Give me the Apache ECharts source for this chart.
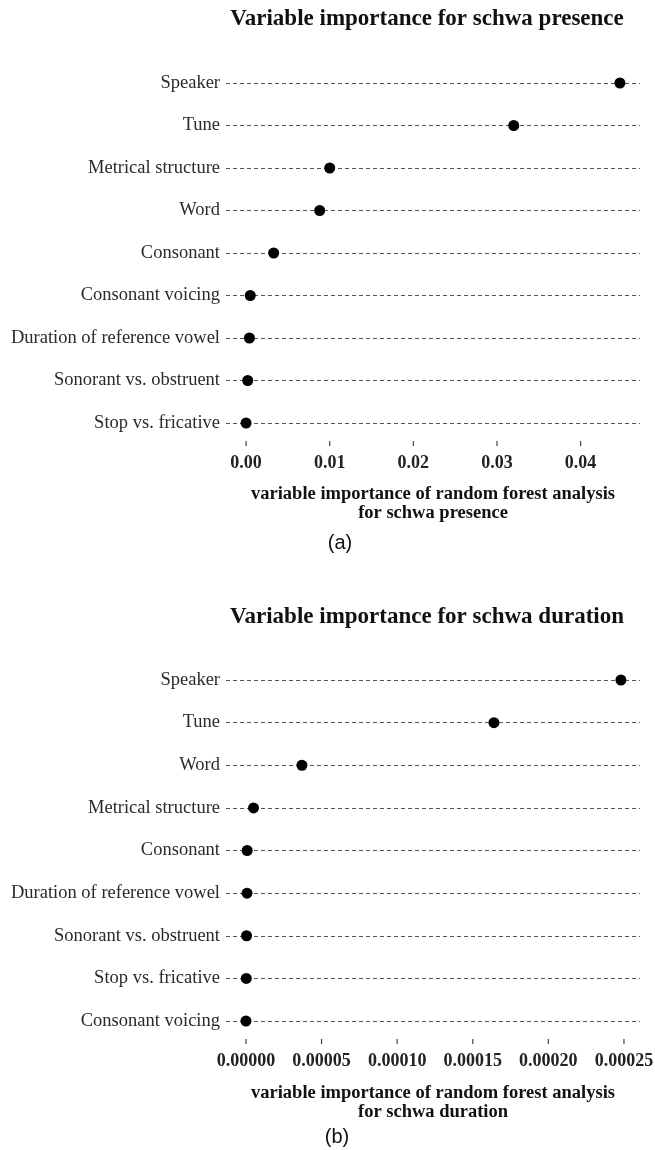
<!DOCTYPE html>
<html>
<head>
<meta charset="utf-8">
<script src="https://cdn.jsdelivr.net/npm/echarts@6/dist/echarts.min.js"></script>
<style>
  html, body { margin: 0; padding: 0; background: #fff; }
  #chart { width: 655px; height: 1150px; }
</style>
</head>
<body>
<div id="chart"></div>
<script>
// Panel (a): variable importance for schwa presence (top to bottom)
const presenceVars = ['Speaker', 'Tune', 'Metrical structure', 'Word', 'Consonant',
  'Consonant voicing', 'Duration of reference vowel', 'Sonorant vs. obstruent', 'Stop vs. fricative'];
const presenceImportance = [0.0447, 0.0320, 0.0100, 0.0088, 0.0033, 0.0005, 0.0004, 0.0002, 0.0000];
const presenceTicks = [0.00, 0.01, 0.02, 0.03, 0.04];

// Panel (b): variable importance for schwa duration (top to bottom)
const durationVars = ['Speaker', 'Tune', 'Word', 'Metrical structure', 'Consonant',
  'Duration of reference vowel', 'Sonorant vs. obstruent', 'Stop vs. fricative', 'Consonant voicing'];
const durationImportance = [0.000248, 0.000164, 0.000037, 0.000005, 0.0000008, 0.0000007, 0.0000004, 0.0000002, 0.0];
const durationTicks = [0.00000, 0.00005, 0.00010, 0.00015, 0.00020, 0.00025];

const serif = '"Liberation Serif", "Times New Roman", serif';
const sans = '"Liberation Sans", Arial, sans-serif';

function valueAxis(gridIndex, min, max, ticks, digits) {
  return {
    type: 'value', gridIndex, min, max, offset: 18,
    axisLine: { show: false },
    splitLine: { show: false },
    axisTick: { show: false },
    axisLabel: {
      customValues: ticks, margin: 13,
      fontFamily: serif, fontWeight: 'bold', fontSize: 18, color: '#222',
      formatter: v => v.toFixed(digits)
    }
  };
}

function categoryAxis(gridIndex, names) {
  return {
    type: 'category', gridIndex, data: names, inverse: true, boundaryGap: false,
    axisLine: { show: false },
    axisTick: { show: false },
    axisLabel: { interval: 0, margin: 6, fontFamily: serif, fontSize: 18.5, color: '#2a2a2a' },
    splitLine: { show: true, interval: 0, lineStyle: { color: '#555', width: 1.2, type: [4, 3] } }
  };
}

function dots(axisIndex, names, values) {
  return {
    type: 'scatter', xAxisIndex: axisIndex, yAxisIndex: axisIndex,
    symbolSize: 11, itemStyle: { color: '#000', opacity: 1 },
    data: values.map((v, i) => [v, names[i]]), z: 5
  };
}

// Short tick marks below the lowest row, one per tick value
function tickMarks(axisIndex, names, ticks) {
  const last = names.length - 1;
  return {
    type: 'custom', xAxisIndex: axisIndex, yAxisIndex: axisIndex, clip: false,
    silent: true,
    data: ticks.map(t => [t, last]),
    encode: { x: 0, y: 1 },
    renderItem: (params, api) => {
      const p = api.coord([api.value(0), api.value(1)]);
      return {
        type: 'line',
        shape: { x1: p[0], y1: p[1] + 18, x2: p[0], y2: p[1] + 23 },
        style: { stroke: '#444', lineWidth: 1.2 }
      };
    }
  };
}

function text(x, y, str, size, weight, family, lh) {
  return {
    type: 'text', x, y,
    style: { text: str, fontSize: size, fontWeight: weight, fontFamily: family,
      fill: '#111', align: 'center', verticalAlign: 'middle', lineHeight: lh || size + 2 }
  };
}

const chart = echarts.init(document.getElementById('chart'), null, { renderer: 'canvas' });
chart.setOption({
  animation: false,
  backgroundColor: '#fff',
  grid: [
    { left: 226, right: 15, top: 83, height: 340, outerBoundsMode: 'none' },
    { left: 226, right: 15, top: 680, height: 341, outerBoundsMode: 'none' }
  ],
  xAxis: [
    valueAxis(0, -0.0024, 0.0471, presenceTicks, 2),
    valueAxis(1, -0.0000132, 0.0002606, durationTicks, 5)
  ],
  yAxis: [
    categoryAxis(0, presenceVars),
    categoryAxis(1, durationVars)
  ],
  series: [
    dots(0, presenceVars, presenceImportance),
    dots(1, durationVars, durationImportance),
    tickMarks(0, presenceVars, presenceTicks),
    tickMarks(1, durationVars, durationTicks)
  ],
  graphic: [
    text(427, 19, 'Variable importance for schwa presence', 23, 'bold', serif),
    text(433, 504, 'variable importance of random forest analysis\nfor schwa presence', 18.5, 'bold', serif, 19),
    text(340, 543, '(a)', 20, 'normal', sans),
    text(427, 617, 'Variable importance for schwa duration', 23, 'bold', serif),
    text(433, 1103, 'variable importance of random forest analysis\nfor schwa duration', 18.5, 'bold', serif, 19),
    text(337, 1137, '(b)', 20, 'normal', sans)
  ]
});
</script>
</body>
</html>
